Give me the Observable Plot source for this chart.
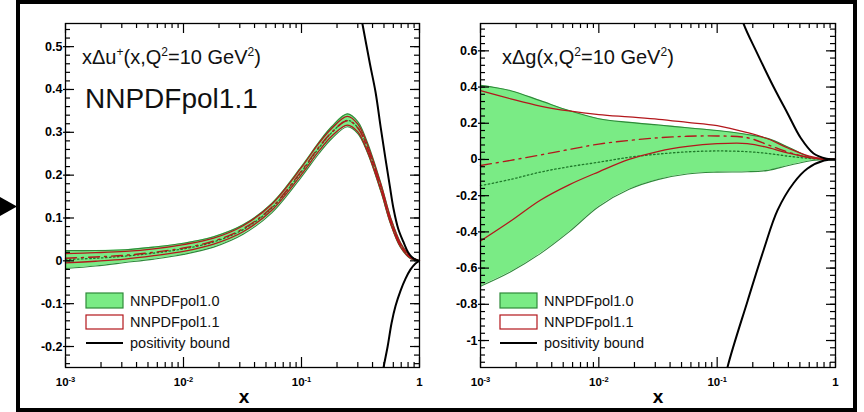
<!DOCTYPE html>
<html>
<head>
<meta charset="utf-8">
<script src="https://cdn.jsdelivr.net/npm/d3@7"></script>
<script src="https://cdn.jsdelivr.net/npm/@observablehq/plot@0.6"></script>
<style>
  body { margin: 0; background: #fff; }
  #page { position: relative; width: 864px; height: 412px; overflow: hidden; font-family: "Liberation Sans", Arial, Helvetica, sans-serif; }
  #page > svg.plot { position: absolute; top: 0; }
  #overlay { position: absolute; left: 0; top: 0; pointer-events: none; }
</style>
</head>
<body>
<div id="page"></div>
<script>
// ---------- x Δu+ (x, Q² = 10 GeV²) ----------
const uX      = [0.001, 0.0018, 0.0032, 0.0056, 0.01, 0.018, 0.032, 0.056, 0.1, 0.14, 0.18, 0.245, 0.30, 0.36, 0.47, 0.57, 0.69, 0.84, 1.0];
const uLo10   = [-0.018, -0.012, -0.004, 0.004, 0.015, 0.032, 0.062, 0.112, 0.196, 0.250, 0.285, 0.313, 0.297, 0.254, 0.162, 0.085, 0.031, 0.005, 0];
const uHi10   = [0.024, 0.024, 0.026, 0.032, 0.041, 0.056, 0.084, 0.134, 0.220, 0.276, 0.313, 0.343, 0.325, 0.278, 0.182, 0.101, 0.043, 0.011, 0];
const uMid10  = [0.003, 0.006, 0.011, 0.018, 0.028, 0.044, 0.073, 0.123, 0.208, 0.263, 0.299, 0.328, 0.311, 0.266, 0.172, 0.093, 0.037, 0.008, 0];
const uLo11   = [-0.005, -0.001, 0.004, 0.012, 0.022, 0.039, 0.068, 0.118, 0.202, 0.256, 0.291, 0.317, 0.301, 0.257, 0.165, 0.087, 0.033, 0.006, 0];
const uHi11   = [0.017, 0.019, 0.022, 0.028, 0.038, 0.053, 0.082, 0.132, 0.218, 0.274, 0.309, 0.337, 0.319, 0.273, 0.179, 0.099, 0.041, 0.010, 0];
const uMid11  = [0.006, 0.009, 0.013, 0.020, 0.030, 0.046, 0.075, 0.125, 0.210, 0.265, 0.300, 0.327, 0.310, 0.265, 0.172, 0.093, 0.037, 0.008, 0];
const uBoundUpX = [0.30, 0.33, 0.38, 0.424, 0.47, 0.515, 0.56, 0.603, 0.66, 0.731, 0.80, 0.891, 1.0];
const uBoundUpY = [0.61, 0.55, 0.46, 0.394, 0.31, 0.238, 0.175, 0.121, 0.075, 0.044, 0.020, 0.005, 0];
const uBoundLoX = [0.47, 0.495, 0.537, 0.58, 0.627, 0.69, 0.76, 0.84, 0.925, 1.0];
const uBoundLoY = [-0.29, -0.25, -0.2, -0.145, -0.105, -0.07, -0.042, -0.02, -0.006, 0];

// ---------- x Δg (x, Q² = 10 GeV²) ----------
const gX      = [0.001, 0.0018, 0.0032, 0.0056, 0.01, 0.018, 0.032, 0.056, 0.1, 0.18, 0.27, 0.4, 0.6, 0.8, 1.0];
const gLo10   = [-0.70, -0.62, -0.52, -0.40, -0.26, -0.165, -0.11, -0.08, -0.07, -0.068, -0.06, -0.033, -0.008, -0.001, 0];
const gHi10   = [0.41, 0.38, 0.325, 0.27, 0.225, 0.205, 0.19, 0.175, 0.16, 0.138, 0.115, 0.068, 0.015, 0.002, 0];
const gMid10  = [-0.145, -0.11, -0.07, -0.04, -0.015, 0.012, 0.03, 0.042, 0.047, 0.043, 0.033, 0.018, 0.006, 0.001, 0];
const gLo11   = [-0.45, -0.34, -0.225, -0.14, -0.068, 0.0, 0.045, 0.072, 0.087, 0.088, 0.065, 0.035, 0.01, 0.002, 0];
const gHi11   = [0.38, 0.335, 0.295, 0.268, 0.248, 0.235, 0.222, 0.205, 0.187, 0.148, 0.113, 0.062, 0.018, 0.003, 0];
const gMid11  = [-0.033, -0.005, 0.025, 0.055, 0.085, 0.105, 0.12, 0.128, 0.13, 0.12, 0.08, 0.04, 0.01, 0.002, 0];
const gBoundUpX = [0.15, 0.167, 0.218, 0.30, 0.394, 0.507, 0.653, 0.84, 1.0];
const gBoundUpY = [0.86, 0.75, 0.586, 0.40, 0.254, 0.12, 0.033, 0.004, 0];
const gBoundLoX = [0.11, 0.122, 0.181, 0.247, 0.324, 0.443, 0.58, 0.80, 1.0];
const gBoundLoY = [-1.30, -1.15, -0.78, -0.50, -0.28, -0.13, -0.05, -0.006, 0];

// ---------- axes ----------
const xMajor = [0.001, 0.01, 0.1, 1];
const xMinor = [0.001, 0.01, 0.1].flatMap(d => [2, 3, 4, 5, 6, 7, 8, 9].map(m => m * d));
const uTicks = [-0.2, -0.1, 0, 0.1, 0.2, 0.3, 0.4, 0.5];
const gTicks = [-1, -0.8, -0.6, -0.4, -0.2, 0, 0.2, 0.4, 0.6];
const legendNames = ["NNPDFpol1.0", "NNPDFpol1.1", "positivity bound"];

const GREEN_FILL = "#7aeb85";
const GREEN_EDGE = "#2f8a3a";
const RED = "#b3171c";
const FONT = "'Liberation Sans', Arial, Helvetica, sans-serif";
const W = 432, H = 412, MT = 23, MB = 45;

const xFmt = d => d === 1 ? "1" : "10^" + Math.round(Math.log10(d));
const yFmt = d => d === 0 ? "0" : (Number.isInteger(d) ? String(d) : d.toFixed(1));

function zip(xs, ys) { return xs.map((x, i) => ({x, y: ys[i]})); }

function panel({xs, lo10, hi10, mid10, lo11, hi11, mid11, upX, upY, loX, loY, yDomain, yTicks, yMinorStep, marginLeft, marginRight}) {
  const curve = "catmull-rom";
  const fw = W - marginLeft - marginRight;   // frame width
  const fh = H - MT - MB;                    // frame height
  const band = xs.map((x, i) => ({x, lo: lo10[i], hi: hi10[i]}));
  const yMinor = d3.range(Math.ceil(yDomain[0] / yMinorStep) * yMinorStep, yDomain[1], yMinorStep).map(v => +v.toFixed(4));
  const line = (data, opts) => Plot.line(data, {x: "x", y: "y", curve, ...opts});
  const tk = {stroke: "#000", strokeWidth: 1.2};
  const svg = Plot.plot({
    width: W, height: H,
    marginLeft, marginRight, marginTop: MT, marginBottom: MB,
    x: {type: "log", domain: [0.001, 1]},
    y: {domain: yDomain},
    style: {background: "transparent", fontFamily: FONT, color: "#000"},
    marks: [
      Plot.areaY(band, {x: "x", y1: "lo", y2: "hi", fill: GREEN_FILL, curve}),
      line(zip(xs, lo10), {stroke: GREEN_EDGE, strokeWidth: 1.1}),
      line(zip(xs, hi10), {stroke: GREEN_EDGE, strokeWidth: 1.1}),
      line(zip(xs, mid10), {stroke: "#1f7a2a", strokeWidth: 1.3, strokeDasharray: "1.5,2.5"}),
      line(zip(xs, lo11), {stroke: RED, strokeWidth: 1.3}),
      line(zip(xs, hi11), {stroke: RED, strokeWidth: 1.3}),
      line(zip(xs, mid11), {stroke: RED, strokeWidth: 1.4, strokeDasharray: "11,5,2,5"}),
      line(zip(upX, upY), {stroke: "#000", strokeWidth: 2, clip: true}),
      line(zip(loX, loY), {stroke: "#000", strokeWidth: 2, clip: true}),
      // inward ticks on all four sides
      Plot.tickY(yTicks, {y: d => d, insetLeft: -2, insetRight: fw - 9, ...tk}),
      Plot.tickY(yMinor, {y: d => d, insetRight: fw - 5, ...tk}),
      Plot.tickY(yTicks, {y: d => d, insetLeft: fw - 9, ...tk}),
      Plot.tickY(yMinor, {y: d => d, insetLeft: fw - 5, ...tk}),
      Plot.tickX(xMajor, {x: d => d, insetTop: fh - 10, ...tk}),
      Plot.tickX(xMinor, {x: d => d, insetTop: fh - 5, ...tk}),
      Plot.tickX(xMajor, {x: d => d, insetBottom: fh - 10, ...tk}),
      Plot.tickX(xMinor, {x: d => d, insetBottom: fh - 5, ...tk}),
      Plot.frame({stroke: "#000", strokeWidth: 1.3}),
      // tick labels
      Plot.axisY(yTicks, {anchor: "left", tickSize: 0, tickPadding: 3, tickFormat: yFmt, label: null, fontSize: 12.5, fontWeight: "bold"}),
      Plot.axisX(xMajor, {anchor: "bottom", tickSize: 0, tickPadding: 10, tickFormat: xFmt, label: null, fontSize: 11.5, fontWeight: "bold"})
    ]
  });
  svg.classList.add("plot");
  // 10^n labels → 10 with a raised exponent
  svg.querySelectorAll('[aria-label="x-axis tick label"] text').forEach(t => {
    const m = t.textContent.match(/^10\^(.+)$/);
    if (!m) return;
    t.textContent = "10";
    const ts = document.createElementNS("http://www.w3.org/2000/svg", "tspan");
    ts.setAttribute("dy", "-0.5em");
    ts.setAttribute("font-size", "7.5");
    ts.textContent = m[1];
    t.appendChild(ts);
  });
  return svg;
}

const page = document.getElementById("page");

const left = panel({
  xs: uX, lo10: uLo10, hi10: uHi10, mid10: uMid10, lo11: uLo11, hi11: uHi11, mid11: uMid11,
  upX: uBoundUpX, upY: uBoundUpY, loX: uBoundLoX, loY: uBoundLoY,
  yDomain: [-0.249, 0.554], yTicks: uTicks, yMinorStep: 0.02, marginLeft: 65, marginRight: 13
});
left.style.left = "0px";
page.appendChild(left);

const right = panel({
  xs: gX, lo10: gLo10, hi10: gHi10, mid10: gMid10, lo11: gLo11, hi11: gHi11, mid11: gMid11,
  upX: gBoundUpX, upY: gBoundUpY, loX: gBoundLoX, loY: gBoundLoY,
  yDomain: [-1.149, 0.751], yTicks: gTicks, yMinorStep: 0.04, marginLeft: 48, marginRight: 29
});
right.style.left = "432px";
page.appendChild(right);

// Titles, legends, axis names, surrounding box and pointer arrow
const ov = d3.select(page).append("svg").attr("id", "overlay").attr("width", 864).attr("height", 412)
  .style("font-family", FONT);

ov.append("rect").attr("x", 18).attr("y", 2).attr("width", 837).attr("height", 408)
  .attr("fill", "none").attr("stroke", "#000").attr("stroke-width", 4);
ov.append("polygon").attr("points", "0,197 17,206.5 0,216").attr("fill", "#000");

function title(x, y, main) {
  const t = ov.append("text").attr("x", x).attr("y", y).attr("font-size", 20).attr("fill", "#111");
  t.append("tspan").text(main[0]);
  if (main[1]) t.append("tspan").attr("dy", -8).attr("font-size", 12).text(main[1]);
  t.append("tspan").attr("dy", main[1] ? 8 : 0).text("(x,Q");
  t.append("tspan").attr("dy", -8).attr("font-size", 12).text("2");
  t.append("tspan").attr("dy", 8).text("=10 GeV");
  t.append("tspan").attr("dy", -8).attr("font-size", 12).text("2");
  t.append("tspan").attr("dy", 8).text(")");
}
title(82, 64, ["xΔu", "+"]);
title(502, 64, ["xΔg"]);
ov.append("text").attr("x", 85).attr("y", 108).attr("font-size", 28).attr("fill", "#111").text("NNPDFpol1.1");

function legend(x0) {
  ov.append("rect").attr("x", x0).attr("y", 293).attr("width", 37).attr("height", 15)
    .attr("fill", GREEN_FILL).attr("stroke", GREEN_EDGE).attr("stroke-width", 1.2);
  ov.append("rect").attr("x", x0).attr("y", 315).attr("width", 37).attr("height", 14)
    .attr("fill", "#fff").attr("stroke", RED).attr("stroke-width", 1.2);
  ov.append("line").attr("x1", x0).attr("x2", x0 + 37).attr("y1", 343).attr("y2", 343)
    .attr("stroke", "#000").attr("stroke-width", 2);
  [306, 327, 348].forEach((y, i) => {
    ov.append("text").attr("x", x0 + 44).attr("y", y).attr("font-size", 14.5).attr("fill", "#111").text(legendNames[i]);
  });
}
legend(86);
legend(500);

ov.append("text").attr("x", 244).attr("y", 403).attr("text-anchor", "middle")
  .attr("font-size", 19).attr("font-weight", "bold").text("x");
ov.append("text").attr("x", 658).attr("y", 403).attr("text-anchor", "middle")
  .attr("font-size", 19).attr("font-weight", "bold").text("x");
</script>
</body>
</html>
